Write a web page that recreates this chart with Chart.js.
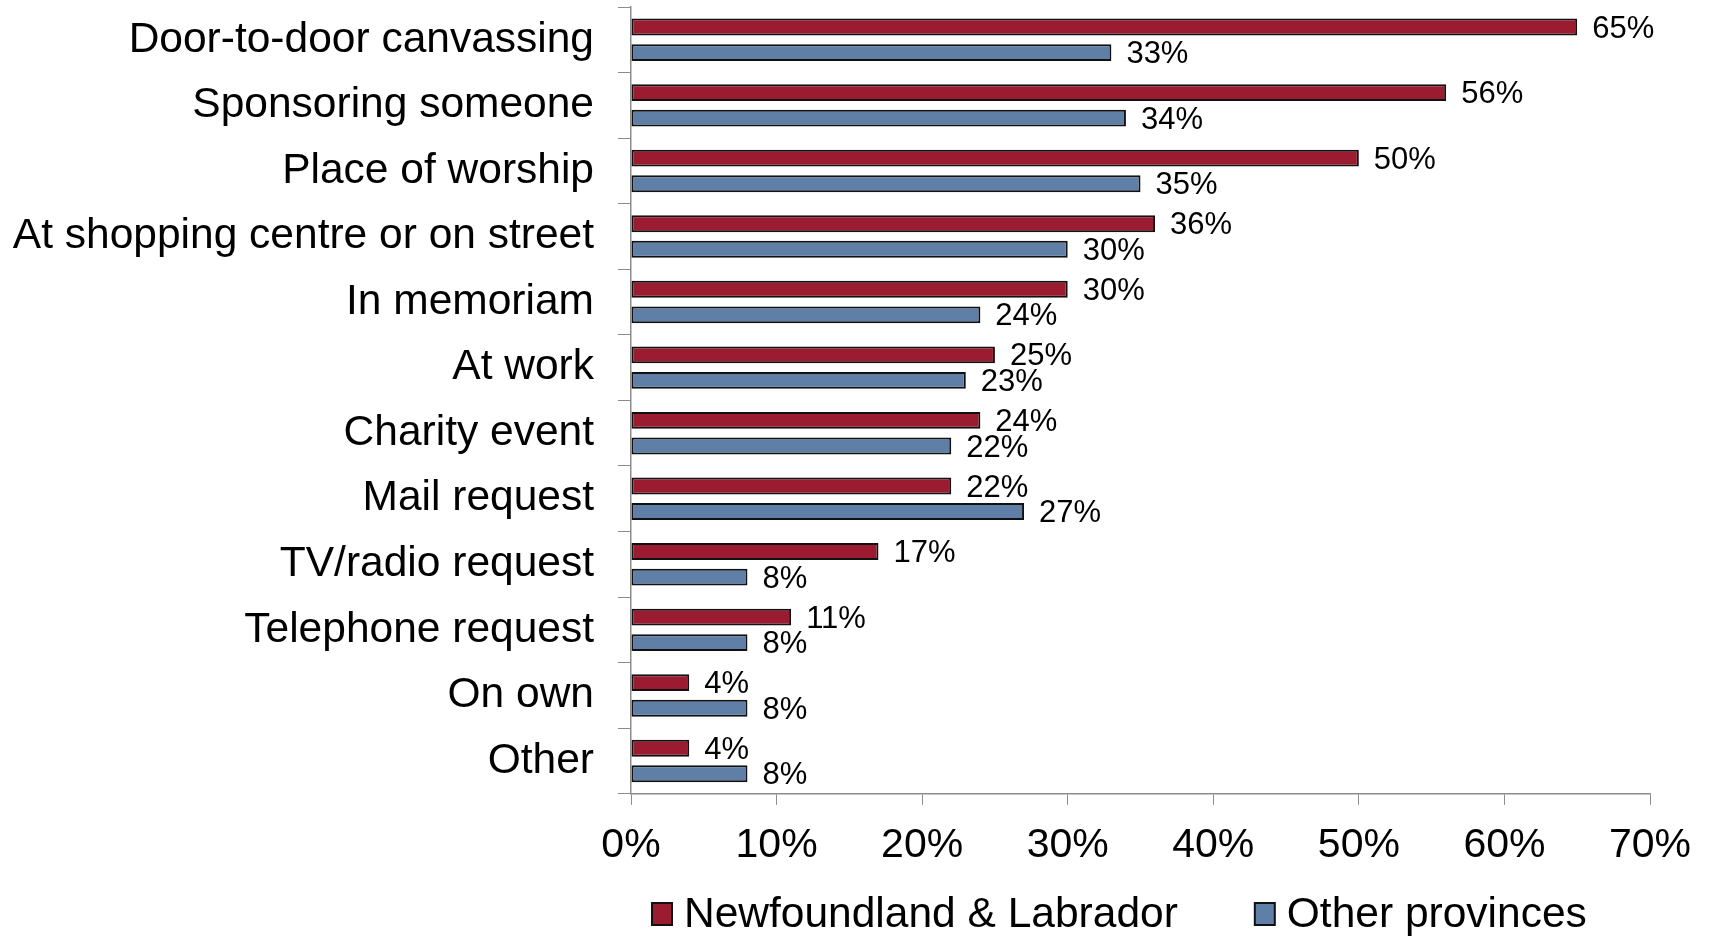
<!DOCTYPE html>
<html>
<head>
<meta charset="utf-8">
<script src="https://cdn.jsdelivr.net/npm/chart.js@4/dist/chart.umd.min.js"></script>
<style>
  html, body { margin: 0; padding: 0; background: #fff; }
  #wrap { width: 1710px; height: 936px; }
</style>
</head>
<body>
<div id="wrap"><canvas id="donorChart" width="1710" height="936"></canvas></div>
<script>
const categories = [
    "Door-to-door canvassing",
    "Sponsoring someone",
    "Place of worship",
    "At shopping centre or on street",
    "In memoriam",
    "At work",
    "Charity event",
    "Mail request",
    "TV/radio request",
    "Telephone request",
    "On own",
    "Other"
];
const nlValues = [65, 56, 50, 36, 30, 25, 24, 22, 17, 11, 4, 4];
const otherValues = [33, 34, 35, 30, 24, 23, 22, 27, 8, 8, 8, 8];
const seriesNames = ["Newfoundland & Labrador", "Other provinces"];
const xTicks = [0, 10, 20, 30, 40, 50, 60, 70];

const FONT = "'Liberation Sans', Arial, sans-serif";
const AXIS_GREY = "#8c8c8c";

// value labels at the end of each bar
const barLabels = {
    id: "barLabels",
    afterDatasetsDraw(chart) {
        const ctx = chart.ctx;
        ctx.save();
        ctx.font = "31px " + FONT;
        ctx.fillStyle = "#000";
        ctx.textAlign = "left";
        ctx.textBaseline = "middle";
        chart.data.datasets.forEach((ds, i) => {
            chart.getDatasetMeta(i).data.forEach((bar, j) => {
                ctx.fillText(ds.data[j] + "%", bar.x + 15, bar.y + 2);
            });
        });
        ctx.restore();
    }
};

// legend under the axis, boxes with dark border
const bottomLegend = {
    id: "bottomLegend",
    afterDraw(chart) {
        const ctx = chart.ctx;
        ctx.save();
        ctx.font = "42.5px " + FONT;
        ctx.textBaseline = "middle";
        const y = 914;
        let x = chart.chartArea.left + 21;
        chart.data.datasets.forEach(ds => {
            ctx.fillStyle = ds.backgroundColor;
            ctx.fillRect(x, y - 11, 20, 22);
            ctx.lineWidth = 2;
            ctx.strokeStyle = "#111";
            ctx.strokeRect(x, y - 11, 20, 22);
            ctx.fillStyle = "#000";
            ctx.fillText(ds.label, x + 32, y + 1);
            x += 32 + ctx.measureText(ds.label).width + 77;
        });
        ctx.restore();
    }
};

new Chart(document.getElementById("donorChart"), {
    type: "bar",
    data: {
        labels: categories,
        datasets: [
            {
                label: seriesNames[0],
                data: nlValues,
                backgroundColor: "#9b1b30",
                borderColor: "#111",
                borderWidth: 2,
                borderSkipped: false,
                categoryPercentage: 0.78,
                barPercentage: 0.66
            },
            {
                label: seriesNames[1],
                data: otherValues,
                backgroundColor: "#5f7fa7",
                borderColor: "#111",
                borderWidth: 2,
                borderSkipped: false,
                categoryPercentage: 0.78,
                barPercentage: 0.66
            }
        ]
    },
    options: {
        indexAxis: "y",
        responsive: false,
        animation: false,
        layout: { padding: { top: 7, right: 60, bottom: 50, left: 0 } },
        plugins: {
            legend: { display: false },
            tooltip: { enabled: false }
        },
        scales: {
            x: {
                min: 0,
                max: 70,
                afterBuildTicks: axis => { axis.ticks = xTicks.map(v => ({ value: v })); },
                afterFit: scale => { scale.paddingLeft = 0; scale.paddingRight = 0; },
                ticks: {
                    callback: v => v + "%",
                    color: "#000",
                    font: { family: FONT, size: 41 },
                    padding: 16,
                    maxRotation: 0
                },
                grid: {
                    drawOnChartArea: false,
                    drawTicks: true,
                    tickLength: 11,
                    color: AXIS_GREY
                },
                border: { color: AXIS_GREY, width: 1.5 }
            },
            y: {
                afterFit: scale => {
                    scale.width = 631;
                    scale.paddingTop = 0;
                    scale.paddingBottom = 0;
                },
                ticks: {
                    color: "#000",
                    font: { family: FONT, size: 42.5 },
                    padding: 24
                },
                grid: {
                    offset: true,
                    drawOnChartArea: false,
                    tickLength: 13,
                    color: AXIS_GREY
                },
                border: { color: AXIS_GREY, width: 1.5 }
            }
        }
    },
    plugins: [barLabels, bottomLegend]
});
</script>
</body>
</html>
